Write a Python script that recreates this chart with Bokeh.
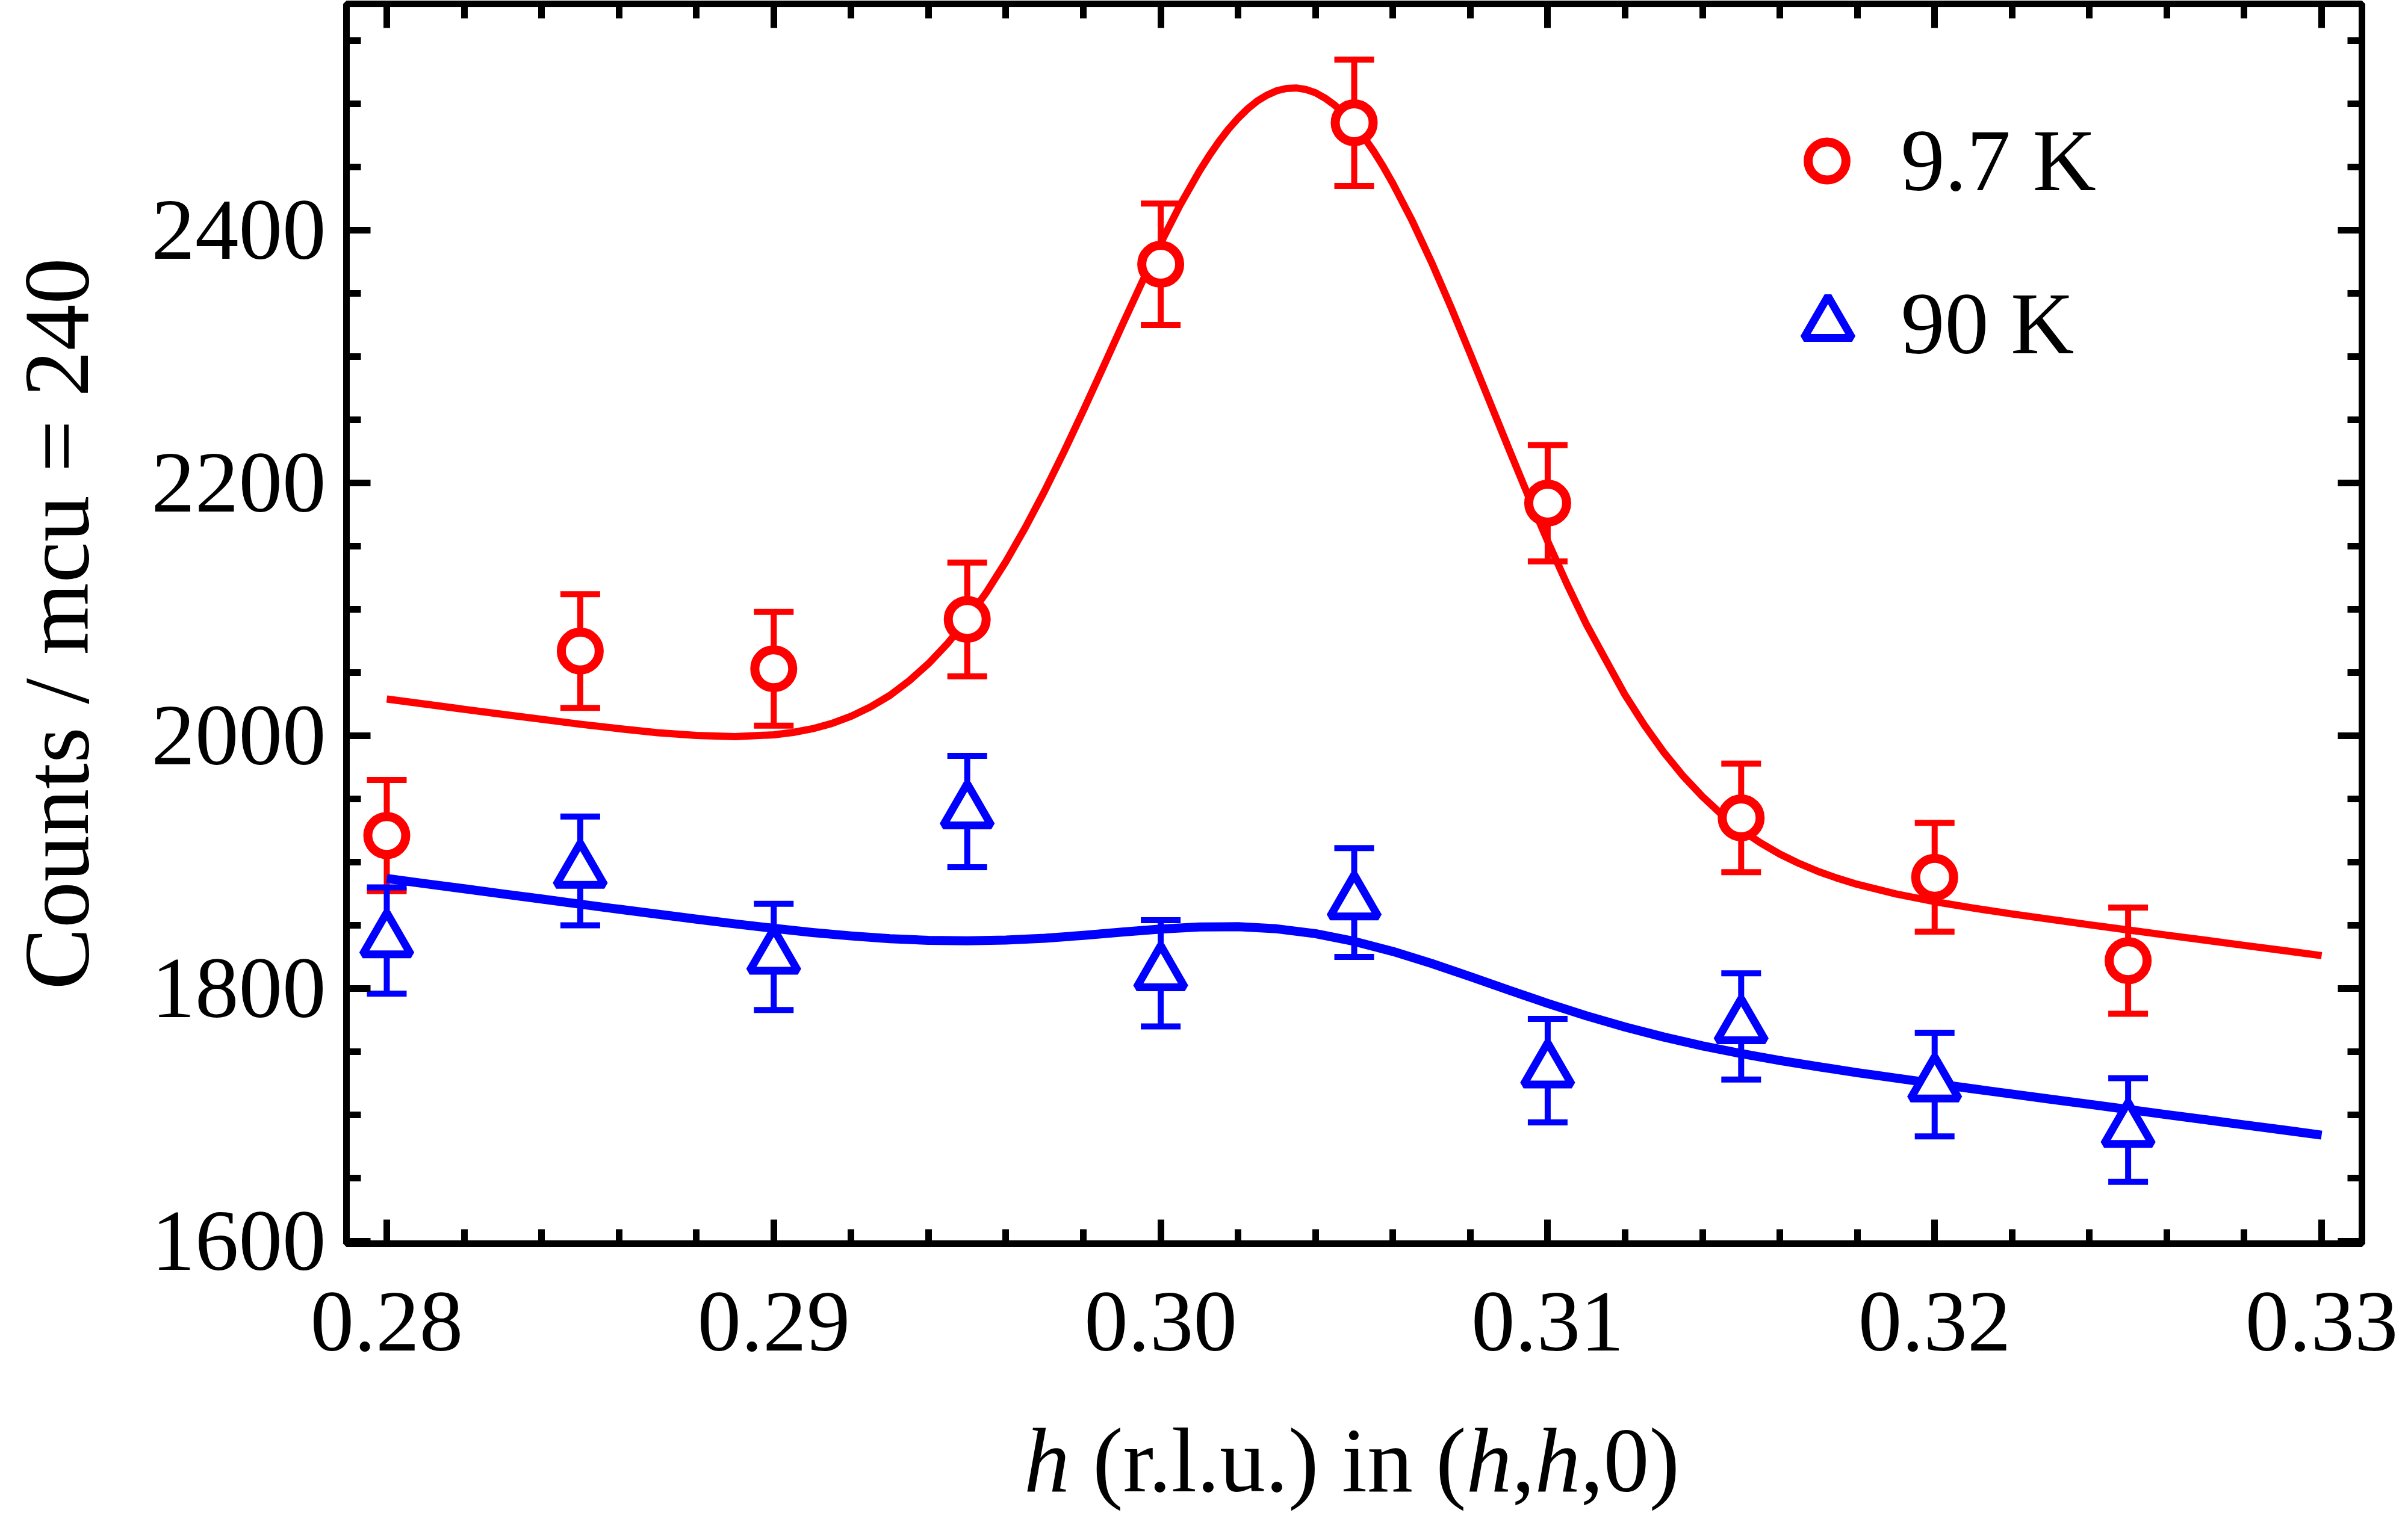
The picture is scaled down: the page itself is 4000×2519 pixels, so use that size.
from bokeh.plotting import figure
from bokeh.layouts import column
from bokeh.models import (Range1d, LinearAxis, FixedTicker, NumeralTickFormatter, Whisker, TeeHead,
                          ColumnDataSource, Legend, LegendItem, CustomJSTickFormatter, Div)
from bokeh.embed import file_html
from bokeh.resources import INLINE

# ---------------- data ----------------
h_values = [0.280, 0.285, 0.290, 0.295, 0.300, 0.305, 0.310, 0.315, 0.320, 0.325]
counts_9_7K = [1921, 2067, 2053, 2092, 2373, 2485, 2184, 1935, 1888, 1822]
err_9_7K = [44, 45, 45, 45, 48, 50, 46, 43, 43, 42]
counts_90K = [1838, 1893, 1825, 1940, 1812, 1868, 1735, 1770, 1724, 1688]
err_90K = [42, 43, 42, 44, 42, 43, 41, 42, 41, 41]

# fitted curve of the 9.7 K scan
fit_h_9_7K = [0.280, 0.281, 0.282, 0.283, 0.284, 0.285, 0.286, 0.287, 0.288, 0.289, 0.290,
              0.2905, 0.291, 0.2915, 0.292, 0.2925, 0.293, 0.2935, 0.294, 0.2945, 0.295, 0.2955,
              0.296, 0.2965, 0.297, 0.2975, 0.298, 0.2985, 0.299, 0.2995, 0.300, 0.3005, 0.301,
              0.30125, 0.3015, 0.30175, 0.302, 0.30225, 0.3025, 0.30275, 0.303, 0.30325, 0.3035,
              0.30375, 0.304, 0.30425, 0.3045, 0.30475, 0.305, 0.30525, 0.3055, 0.30575, 0.306,
              0.3065, 0.307, 0.3075, 0.308, 0.3085, 0.309, 0.3095, 0.310, 0.3105, 0.311, 0.3115,
              0.312, 0.3125, 0.313, 0.3135, 0.314, 0.3145, 0.315, 0.3155, 0.316, 0.3165, 0.317,
              0.3175, 0.318, 0.319, 0.320, 0.321, 0.322, 0.323, 0.324, 0.325, 0.326, 0.327, 0.328,
              0.329, 0.330]
fit_counts_9_7K = [2029.0, 2025.0, 2020.9, 2016.9, 2013.0, 2009.1, 2005.6, 2002.4, 2000.2, 1999.3, 2000.7,
                   2002.6, 2005.5, 2009.7, 2015.4, 2022.8, 2031.9, 2043.4, 2057.1, 2073.3, 2092.1, 2113.7,
                   2137.8, 2164.6, 2193.6, 2224.7, 2257.2, 2290.7, 2324.5, 2357.7, 2389.8, 2419.8, 2446.7,
                   2458.8, 2469.9, 2479.9, 2488.6, 2496.1, 2502.3, 2506.9, 2510.3, 2512.1, 2512.5,
                   2511.3, 2508.7, 2504.4, 2498.8, 2491.8, 2483.3, 2473.6, 2462.6, 2450.3, 2436.9,
                   2407.3, 2374.5, 2339.2, 2302.1, 2264.4, 2226.7, 2189.6, 2153.9, 2119.9, 2088.1, 2060.0,
                   2032.2, 2008.3, 1986.9, 1968.1, 1951.8, 1937.6, 1925.5, 1915.2, 1906.3, 1898.9, 1892.5,
                   1887.1, 1882.4, 1874.8, 1868.7, 1863.6, 1859.0, 1854.7, 1850.4, 1846.3, 1842.2, 1838.2,
                   1834.1, 1830.1, 1826.0]

# fitted curve of the 90 K scan
fit_h_90K = [0.280, 0.281, 0.282, 0.283, 0.284, 0.285, 0.286, 0.287, 0.288, 0.289, 0.290,
             0.291, 0.292, 0.293, 0.294, 0.295, 0.296, 0.297, 0.298, 0.299, 0.300,
             0.301, 0.302, 0.303, 0.304, 0.305, 0.306, 0.307, 0.308, 0.309, 0.310,
             0.311, 0.312, 0.313, 0.314, 0.315, 0.316, 0.317, 0.318, 0.319, 0.320,
             0.321, 0.322, 0.323, 0.324, 0.325, 0.326, 0.327, 0.328, 0.329, 0.330]
fit_counts_90K = [1887.0, 1882.9, 1878.9, 1874.8, 1870.8, 1866.7, 1862.7, 1858.8, 1854.9, 1851.1, 1847.6,
                  1844.3, 1841.6, 1839.4, 1838.1, 1837.7, 1838.3, 1839.8, 1842.0, 1844.6, 1847.0,
                  1848.7, 1848.9, 1847.2, 1843.4, 1837.3, 1829.3, 1819.8, 1809.4, 1798.7, 1788.2,
                  1778.4, 1769.5, 1761.6, 1754.6, 1748.5, 1743.0, 1738.1, 1733.4, 1729.1, 1724.8,
                  1720.6, 1716.5, 1712.4, 1708.4, 1704.3, 1700.2, 1696.2, 1692.1, 1688.1, 1684.0]

series_labels = ["9.7 K", "90 K"]
x_ticks = [0.28, 0.29, 0.30, 0.31, 0.32, 0.33]
x_tick_labels = ["0.28", "0.29", "0.30", "0.31", "0.32", "0.33"]
y_ticks = [1600, 1800, 2000, 2200, 2400]
y_tick_labels = ["1600", "1800", "2000", "2200", "2400"]
x_minor_ticks = [round(0.278 + 0.002 * i, 3) for i in range(28)]
y_minor_ticks = [1550 + 50 * i for i in range(22)]

y_axis_title = "Counts / mcu = 240"
x_axis_title_parts = [("h", "italic"), (" (r.l.u.) in (", "normal"), ("h", "italic"),
                      (",", "normal"), ("h", "italic"), (",0)", "normal")]

# ---------------- style ----------------
FONT = "Liberation Serif"
TICK_FS = 145
LEG_FS = 146
TITLE_FS = 152
RED = "#ff0000"
BLUE = "#0000ff"

W = 3984
H_MAIN = 2360
H_TITLE = 143

p = figure(width=W, height=H_MAIN, output_backend="svg", toolbar_location=None,
           x_range=Range1d(0.278958, 0.331042), y_range=Range1d(1598.1, 2579.0),
           min_border_left=575, min_border_right=61, min_border_top=6, min_border_bottom=294,
           background_fill_color="white", border_fill_color="white")
p.grid.visible = False
p.outline_line_color = "black"
p.outline_line_width = 11
p.outline_line_alpha = 1.0

p.add_layout(LinearAxis(), "above")
p.add_layout(LinearAxis(), "right")

x_over = {t: l for t, l in zip(x_ticks, x_tick_labels)}
y_over = {t: l for t, l in zip(y_ticks, y_tick_labels)}

for ax in p.xaxis:
    ax.ticker = FixedTicker(ticks=x_ticks, minor_ticks=x_minor_ticks)
for ax in p.yaxis:
    ax.ticker = FixedTicker(ticks=y_ticks, minor_ticks=y_minor_ticks)

for ax in p.xaxis + p.yaxis:
    ax.axis_line_color = None
    ax.major_tick_in = 40
    ax.major_tick_out = 0
    ax.minor_tick_in = 24
    ax.minor_tick_out = 0
    ax.major_tick_line_width = 11
    ax.minor_tick_line_width = 11
    ax.major_tick_line_color = "black"
    ax.minor_tick_line_color = "black"
    ax.major_label_text_font = FONT
    ax.major_label_text_font_size = f"{TICK_FS}px"
    ax.major_label_text_color = "black"

bx = p.below[0]
bx.formatter = NumeralTickFormatter(format="0.00")
bx.major_label_overrides = x_over
bx.major_label_standoff = 82

ly = p.left[0]
ly.major_label_overrides = y_over
ly.major_label_standoff = 34
ly.axis_label = y_axis_title
ly.axis_label_text_font = FONT
ly.axis_label_text_font_size = "154px"
ly.axis_label_text_font_style = "normal"
ly.axis_label_text_color = "black"
ly.axis_label_standoff = 70

for ax in (p.above[0], p.right[0]):
    ax.formatter = CustomJSTickFormatter(code="return ''")
    ax.major_label_text_font_size = "1px"
    ax.major_label_standoff = 0

# ---------------- fitted curves ----------------
p.line(fit_h_9_7K, fit_counts_9_7K, line_color=RED, line_width=12, line_join="round")
p.line(fit_h_90K, fit_counts_90K, line_color=BLUE, line_width=15, line_join="round")

# ---------------- error bars ----------------
for counts, err, col in ((counts_9_7K, err_9_7K, RED), (counts_90K, err_90K, BLUE)):
    src = ColumnDataSource(dict(x=h_values,
                                upper=[c + e for c, e in zip(counts, err)],
                                lower=[c - e for c, e in zip(counts, err)]))
    wk = Whisker(source=src, base="x", upper="upper", lower="lower",
                 line_color=col, line_width=10,
                 upper_head=TeeHead(size=66, line_color=col, line_width=10),
                 lower_head=TeeHead(size=66, line_color=col, line_width=10))
    p.add_layout(wk)

# ---------------- markers ----------------
r_red = p.scatter(h_values, counts_9_7K, marker="circle", size=63, line_color=RED,
                  line_width=15, fill_color="white")
r_blue = p.scatter(h_values, counts_90K, marker="triangle", size=80, line_color=BLUE,
                   line_width=13, fill_color="white")

# ---------------- legends ----------------
leg1 = Legend(items=[LegendItem(label=series_labels[0], renderers=[r_red])],
              location=(2380.5, 1699), glyph_width=157, glyph_height=200, label_standoff=45,
              padding=0, margin=0, spacing=0, border_line_color=None, background_fill_alpha=0,
              label_text_font=FONT, label_text_font_size=f"{LEG_FS}px", label_text_color="black")
leg2 = Legend(items=[LegendItem(label=series_labels[1], renderers=[r_blue])],
              location=(2360.5, 1418), glyph_width=200, glyph_height=220, label_standoff=22,
              padding=0, margin=0, spacing=0, border_line_color=None, background_fill_alpha=0,
              label_text_font=FONT, label_text_font_size=f"{LEG_FS}px", label_text_color="black")
p.add_layout(leg1)
p.add_layout(leg2)

# ---------------- x axis title (mixed italic / upright) as text below the plot ----------------
html_parts = []
for txt, style in x_axis_title_parts:
    html_parts.append(f"<i>{txt}</i>" if style == "italic" else txt)
title_html = (f"<div style=\"font-family:'{FONT}'; font-size:{TITLE_FS}px; line-height:134px; "
              f"white-space:pre; color:#000; margin:0; padding:0 0 0 1701px;\">"
              + "".join(html_parts) + "</div>")
xtitle = Div(text=title_html, width=W, height=H_TITLE, margin=(0, 0, 0, 0))

layout = column(p, xtitle, spacing=0)
open("out.html", "w").write(file_html(layout, INLINE))
